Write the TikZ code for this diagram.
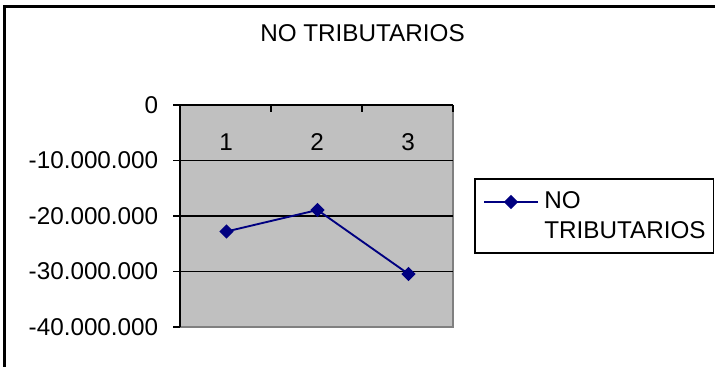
\documentclass[tikz,border=0pt]{standalone}
\usepackage{fontspec}
\setmainfont{Liberation Sans}
\usetikzlibrary{shapes.geometric}
\definecolor{marino}{RGB}{0,0,128}
\definecolor{fondo}{RGB}{192,192,192}
\definecolor{borde}{RGB}{128,128,128}
\tikzset{
	texto/.style={inner sep=0pt, font=\fontsize{18.2}{21}\selectfont},
	marca/.style={diamond, fill=marino, inner sep=0pt, minimum width=11pt, minimum height=11pt},
	serie/.style={color=marino, line width=1.4pt}
}

\begin{document}
\begin{tikzpicture}[x=0.75pt, y=-0.75pt]
			%%%%% START %%%%%
			\useasboundingbox (0, 0) rectangle (715, 367);
			
			% marco exterior
			\draw[line width=2.1pt] (4.5, 380) -- (4.5, 6.2) -- (730, 6.2);
			
			\node[texto] (titulo) at (362.5, 33) {NO TRIBUTARIOS};
			
			% area de trazado
			\fill[fondo] (180, 105) rectangle (453, 327);
			\draw[borde, line width=1.3pt] (180, 327) -- (453, 327) -- (453, 105);
			\draw[line width=0.8pt] (180, 160.5) -- (453, 160.5);
			\draw[line width=0.8pt] (180, 216) -- (453, 216);
			\draw[line width=0.8pt] (180, 271.5) -- (453, 271.5);
			\draw[line width=0.8pt] (180, 327) -- (180, 105) -- (453, 105);
			
			% marcas de los ejes
			\draw[line width=0.8pt] (173, 105) -- (180, 105);
			\draw[line width=0.8pt] (173, 160.5) -- (180, 160.5);
			\draw[line width=0.8pt] (173, 216) -- (180, 216);
			\draw[line width=0.8pt] (173, 271.5) -- (180, 271.5);
			\draw[line width=0.8pt] (173, 327) -- (180, 327);
			\draw[line width=0.8pt] (271, 105) -- (271, 112);
			\draw[line width=0.8pt] (362, 105) -- (362, 112);
			\draw[line width=0.8pt] (453, 105) -- (453, 112);
			
			\node[texto, anchor=east] (y0) at (158.5, 105) {0};
			\node[texto, anchor=east] (y10) at (158.5, 160.5) {-10.000.000};
			\node[texto, anchor=east] (y20) at (158.5, 216) {-20.000.000};
			\node[texto, anchor=east] (y30) at (158.5, 271.5) {-30.000.000};
			\node[texto, anchor=east] (y40) at (158.5, 327) {-40.000.000};
			
			\node[texto] (c1) at (226, 142) {1};
			\node[texto] (c2) at (317, 142) {2};
			\node[texto] (c3) at (408, 142) {3};
			
			% serie
			\coordinate (p1) at (226.5, 231.5);
			\coordinate (p2) at (317.5, 210);
			\coordinate (p3) at (408.5, 274);
			\draw[serie] (p1) -- (p2) -- (p3);
			\node[marca] (m1) at (p1) {};
			\node[marca] (m2) at (p2) {};
			\node[marca] (m3) at (p3) {};
			
			% leyenda
			\draw[line width=0.8pt, fill=white] (475, 179) rectangle (713.5, 253);
			\coordinate (l1) at (484, 202);
			\coordinate (l2) at (538, 202);
			\draw[serie] (l1) -- (l2);
			\node[marca] (lm) at (511, 202) {};
			\node[texto, anchor=west] (ln1) at (544, 200) {NO};
			\node[texto, anchor=west] (ln2) at (544, 230) {TRIBUTARIOS};
			%%%%% END %%%%%
\end{tikzpicture}
\end{document}
